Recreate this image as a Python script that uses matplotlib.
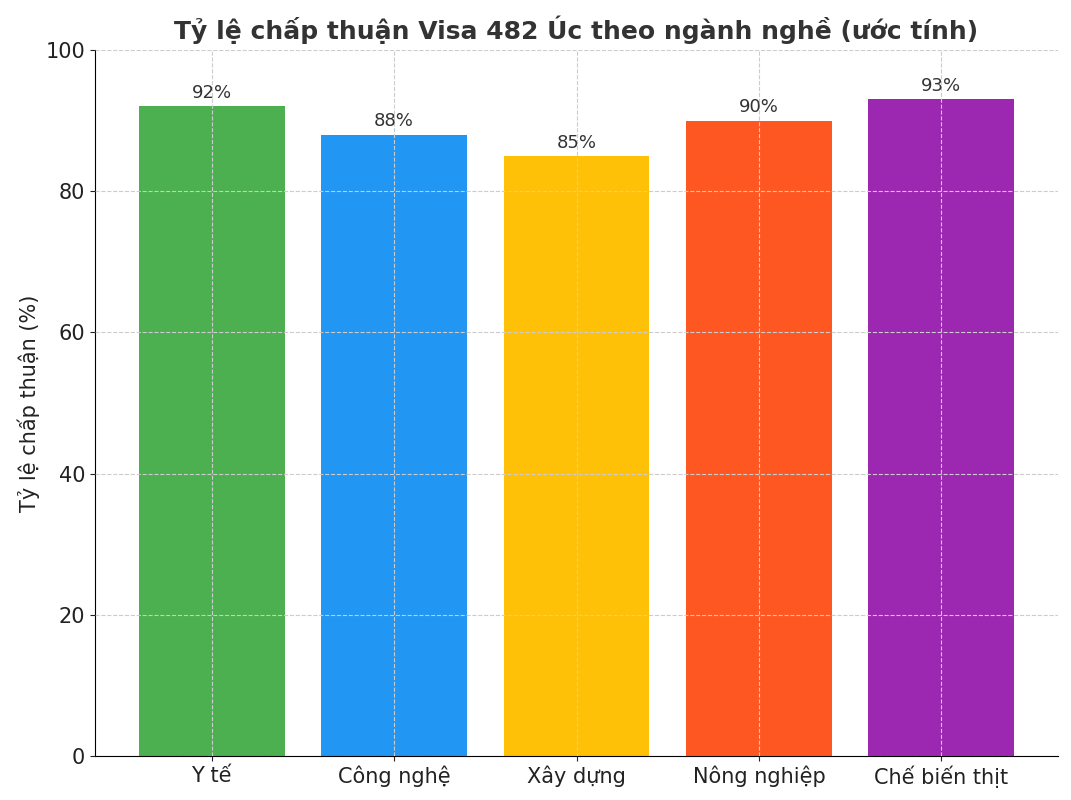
import matplotlib
matplotlib.use("Agg")
import matplotlib.pyplot as plt

categories = ["Y tế", "Công nghệ", "Xây dựng", "Nông nghiệp", "Chế biến thịt"]
values = [92, 88, 85, 90, 93]
colors = ["#4CAF50", "#2196F3", "#FFC107", "#FF5722", "#9C27B0"]

fig = plt.figure(figsize=(10.71, 8), dpi=100)
ax = fig.add_axes([95/1071, 44/800, (1058-95)/1071, (756-50)/800])
bars = ax.bar(categories, values, color=colors, width=0.8)
for b, v in zip(bars, values):
    ax.text(b.get_x() + b.get_width()/2, v + 0.6, f"{v}%", ha="center", va="bottom",
            fontsize=13, color="#333333")
ax.set_ylim(0, 100)
ax.set_ylabel("Tỷ lệ chấp thuận (%)", fontsize=15, color="#222222")
ax.set_title("Tỷ lệ chấp thuận Visa 482 Úc theo ngành nghề (ước tính)",
             fontsize=18, fontweight="bold", color="#333333", pad=8)
ax.tick_params(axis="both", labelsize=15, colors="#222222")
ax.grid(True, linestyle="--", color="#cccccc", linewidth=0.8)
ax.set_axisbelow(False)
ax.spines["top"].set_visible(False)
ax.spines["right"].set_visible(False)
fig.savefig("out.png", dpi=100)
